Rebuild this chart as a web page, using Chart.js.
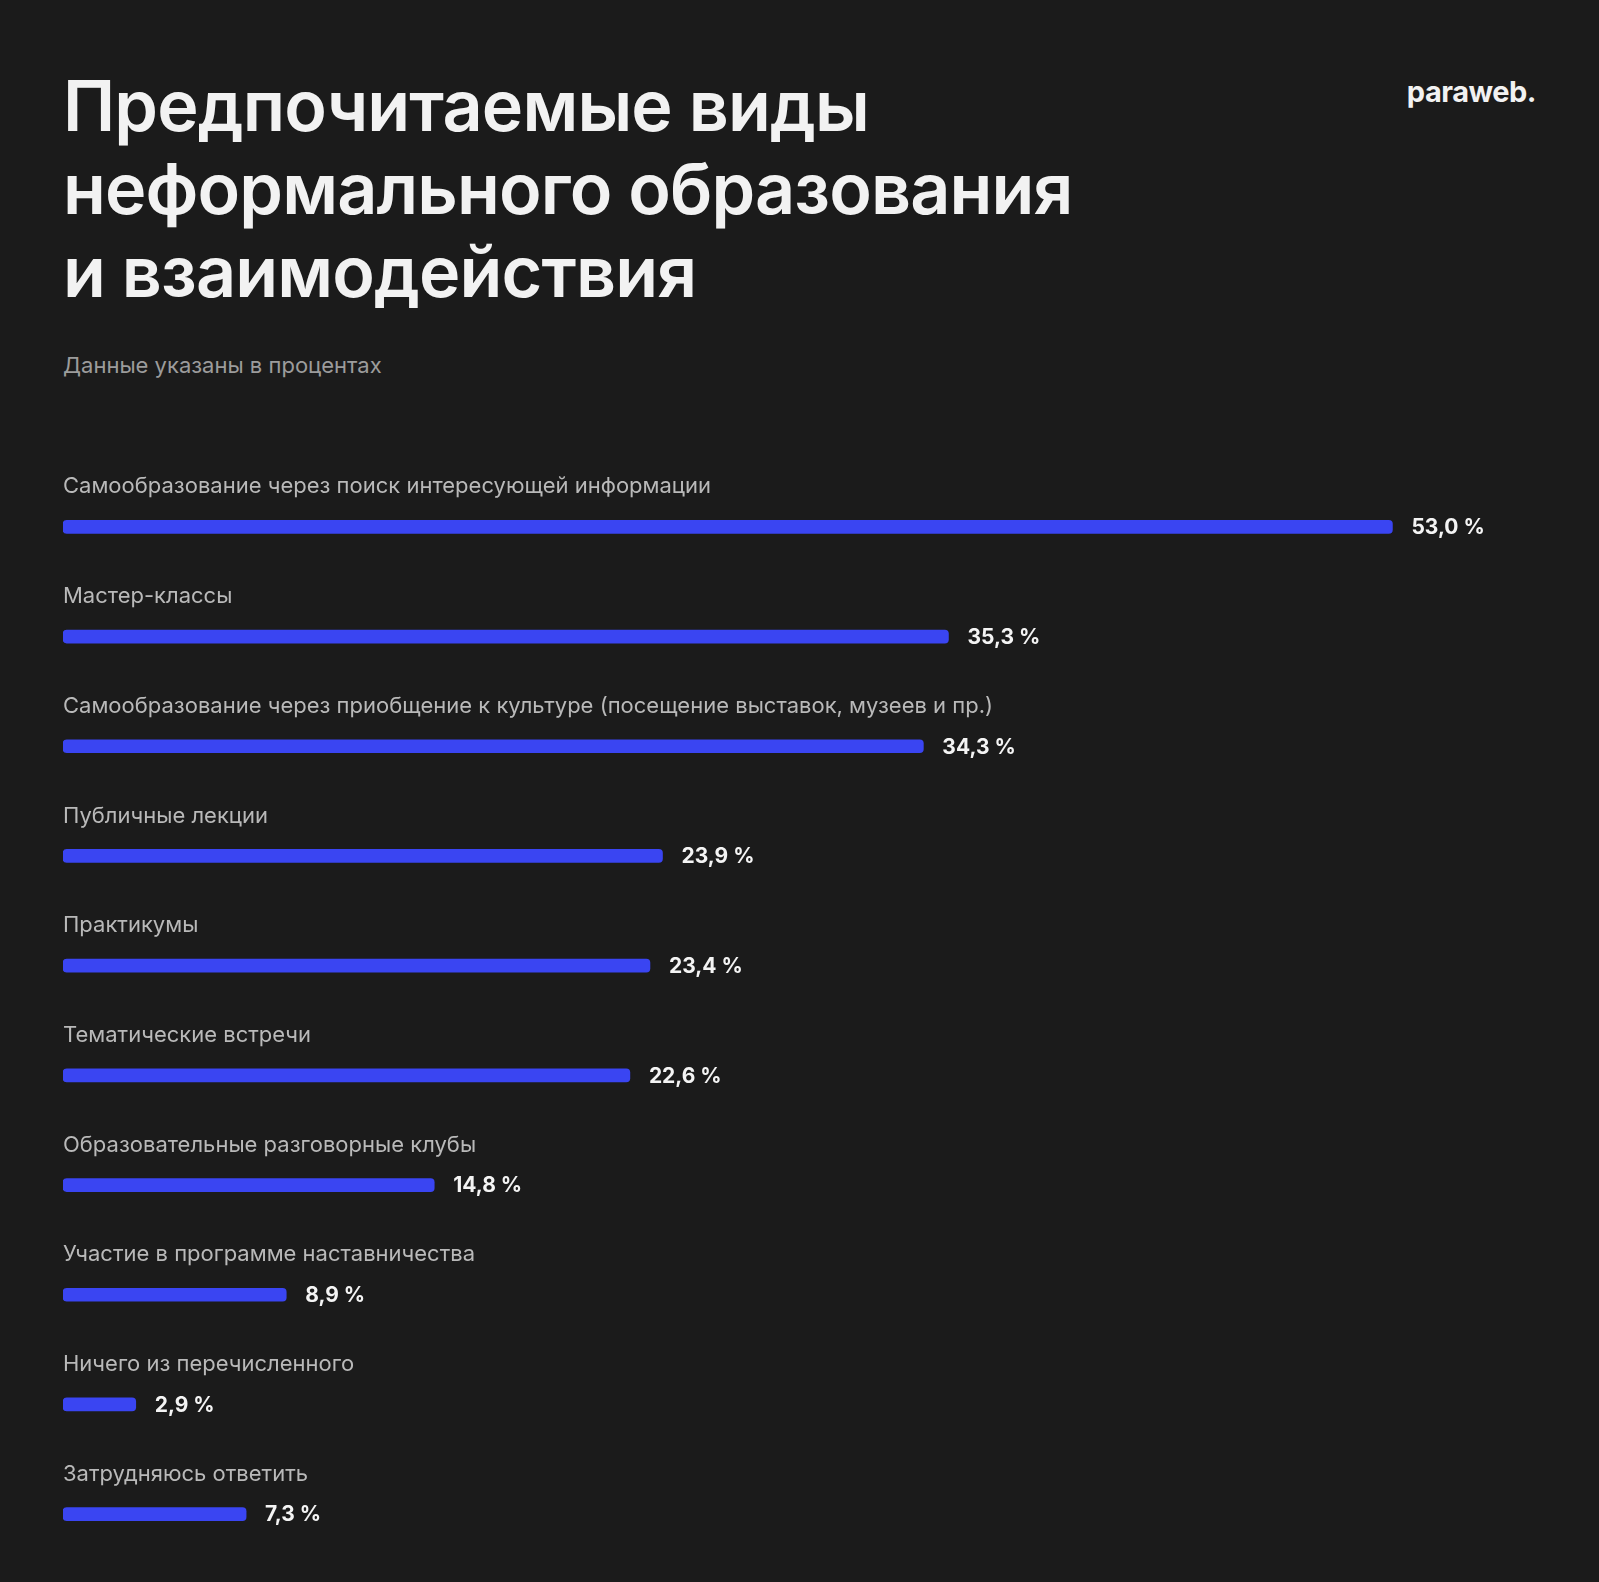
<!DOCTYPE html>
<html lang="ru">
<head>
<meta charset="utf-8">
<title>Предпочитаемые виды неформального образования и взаимодействия</title>
<script src="https://cdn.jsdelivr.net/npm/chart.js@4"></script>
<style>
  html, body { margin: 0; padding: 0; background: #1b1b1b; }
  #wrap { position: relative; width: 1599px; height: 1582px; overflow: hidden; font-family: Inter, 'Noto Sans', sans-serif; }
  #title { position: absolute; left: 63px; top: 64px; margin: 0; font-size: 70px; line-height: 83px; font-weight: 600; color: #f2f2f2; letter-spacing: -0.85px; }
  #sub { position: absolute; left: 63px; top: 353px; font-size: 22px; line-height: 24px; color: #9c9c9c; }
  #logo { position: absolute; right: 63px; top: 74px; font-size: 29px; line-height: 36px; font-weight: 700; color: #f2f2f2; letter-spacing: -0.5px; }
  #chart { position: absolute; left: 0; top: 0; }
</style>
</head>
<body>
<div id="wrap">
  <h1 id="title">Предпочитаемые виды<br>неформального образования<br>и взаимодействия</h1>
  <div id="sub">Данные указаны в процентах</div>
  <div id="logo">paraweb.</div>
  <canvas id="chart" width="1599" height="1582"></canvas>
</div>
<script>
// данные с картинки, в процентах
const categories = [
  'Самообразование через поиск интересующей информации',
  'Мастер-классы',
  'Самообразование через приобщение к культуре (посещение выставок, музеев и пр.)',
  'Публичные лекции',
  'Практикумы',
  'Тематические встречи',
  'Образовательные разговорные клубы',
  'Участие в программе наставничества',
  'Ничего из перечисленного',
  'Затрудняюсь ответить'
];
const values = [53.0, 35.3, 34.3, 23.9, 23.4, 22.6, 14.8, 8.9, 2.9, 7.3];

const barColor = '#3a45f2';

// подписи: категория над полосой, значение справа от нее
const barLabels = {
  id: 'barLabels',
  afterDatasetsDraw(chart) {
    const ctx = chart.ctx;
    const meta = chart.getDatasetMeta(0);
    const left = chart.scales.x.left;
    ctx.save();
    meta.data.forEach((bar, i) => {
      ctx.textBaseline = 'middle';
      ctx.textAlign = 'left';
      ctx.fillStyle = '#b9b9b9';
      ctx.font = '400 22px Inter, "Noto Sans", sans-serif';
      ctx.fillText(categories[i], left, bar.y - 40);

      ctx.fillStyle = '#f4f4f4';
      ctx.font = '700 21px Inter, "Noto Sans", sans-serif';
      const txt = values[i].toFixed(1).replace('.', ',') + ' %';
      ctx.fillText(txt, bar.x + 19, bar.y + 1);
    });
    ctx.restore();
  }
};

new Chart('chart', {
  type: 'bar',
  data: {
    labels: categories,
    datasets: [{
      data: values,
      backgroundColor: barColor,
      barThickness: 13,
      borderRadius: 4,
      borderSkipped: false
    }]
  },
  options: {
    indexAxis: 'y',
    responsive: false,
    animation: false,
    devicePixelRatio: 1,
    layout: { padding: { left: 63, top: 472, right: 31, bottom: 13 } },
    scales: {
      x: { display: false, min: 0, max: 60 },
      y: { display: false, offset: true }
    },
    plugins: {
      legend: { display: false },
      tooltip: { enabled: false }
    }
  },
  plugins: [barLabels]
});
</script>
</body>
</html>
